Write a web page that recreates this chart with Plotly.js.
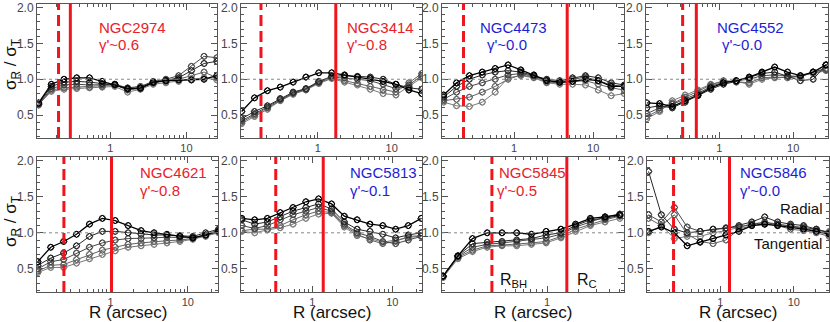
<!DOCTYPE html>
<html><head><meta charset="utf-8">
<script src="https://cdn.plot.ly/plotly-3.0.1.min.js"></script>
<style>html,body{margin:0;padding:0;background:#fff}</style>
</head><body><div id="chart" style="width:830px;height:322px"></div>
<script>
// ---- data ----
const galaxies = ["NGC2974","NGC3414","NGC4473","NGC4552","NGC4621","NGC5813","NGC5845","NGC5846"];
const gammaLabels = ["γ'~0.6","γ'~0.8","γ'~0.0","γ'~0.0","γ'~0.8","γ'~0.1","γ'~0.5","γ'~0.0"];
const coreType = ["core-less","core-less","core","core","core-less","core","core-less","core"];
const rBH = [0.21, 0.17, 0.23, 0.32, 0.25, 0.35, 0.295, 0.23];
const rC  = [0.30, 1.75, 4.7, 0.49, 1.03, 1.37, 1.55, 1.33];

const r2974 = [0.115,0.169,0.248,0.364,0.535,0.785,1.15,1.69,2.49,3.66,5.37,7.89,11.6,17.0,25.0];
const r3414 = [0.093,0.139,0.208,0.31,0.463,0.69,1.03,1.54,2.3,3.44,5.13,7.66,11.4,17.1,25.5];
const r4473 = [0.129,0.188,0.273,0.397,0.578,0.841,1.22,1.78,2.59,3.78,5.5,8.0,11.6,16.9,24.7];
const r4552 = [0.105,0.156,0.232,0.346,0.515,0.767,1.14,1.70,2.54,3.78,5.62,8.38,12.5,18.6,27.7];
const r4621 = [0.115,0.169,0.248,0.364,0.535,0.785,1.15,1.69,2.49,3.66,5.37,7.89,11.6,17.0,25.0];
const r5813 = [0.132,0.191,0.275,0.398,0.575,0.832,1.2,1.74,2.51,3.63,5.25,7.59,11.0,15.8,22.9];
const r5845 = [0.1,0.139,0.192,0.266,0.369,0.511,0.708,0.98,1.36,1.88,2.61,3.61,5.01];
const r5846 = [0.105,0.157,0.236,0.353,0.53,0.794,1.19,1.79,2.68,4.02,6.03,9.04,13.6,20.3,30.5];

// each galaxy: five sigma_R/sigma_T profiles (darkest first)
const s2974 = [
 [0.67,0.93,1.0,1.02,1.02,0.97,0.93,0.87,0.88,0.96,0.98,0.99,0.99,1.0,1.05],
 [0.66,0.90,0.96,0.97,0.96,0.94,0.92,0.86,0.87,0.95,0.98,1.02,1.12,1.22,1.25],
 [0.65,0.87,0.92,0.93,0.92,0.92,0.93,0.88,0.90,0.97,1.0,1.05,1.18,1.32,1.30],
 [0.64,0.85,0.88,0.89,0.89,0.90,0.92,0.85,0.88,0.95,0.97,1.0,1.05,1.10,1.02],
 [0.65,0.83,0.86,0.87,0.88,0.89,0.90,0.82,0.86,0.93,0.95,0.97,1.0,1.02,0.99]];
const s3414 = [
 [0.55,0.74,0.84,0.89,0.96,1.03,1.09,1.09,1.06,1.03,1.01,0.97,0.93,0.85,0.80],
 [0.45,0.55,0.63,0.73,0.82,0.87,0.97,1.04,1.05,1.04,1.03,1.0,0.93,0.88,0.86],
 [0.42,0.52,0.61,0.72,0.81,0.86,0.96,1.03,1.02,1.0,0.98,0.93,0.87,0.92,1.05],
 [0.40,0.50,0.60,0.71,0.80,0.86,0.95,1.02,0.98,0.94,0.90,0.85,0.82,0.95,1.08],
 [0.38,0.48,0.58,0.70,0.79,0.85,0.94,1.01,0.96,0.92,0.86,0.80,0.78,0.90,1.02]];
const s4473 = [
 [0.78,0.95,1.05,1.10,1.15,1.20,1.13,1.06,0.98,0.96,0.97,1.0,0.98,0.90,0.90],
 [0.75,0.90,1.0,1.06,1.10,1.12,1.10,1.05,1.0,0.98,1.02,1.05,1.02,0.95,0.92],
 [0.72,0.82,0.90,0.95,1.0,1.06,1.08,1.04,0.98,0.96,1.0,1.03,0.98,0.92,0.90],
 [0.70,0.72,0.75,0.82,0.90,1.0,1.06,1.03,0.96,0.95,0.97,0.98,0.93,0.88,0.85],
 [0.68,0.63,0.62,0.68,0.82,1.02,1.05,1.02,0.95,0.93,0.93,0.92,0.85,0.77,0.80]];
const s4552 = [
 [0.67,0.66,0.62,0.70,0.78,0.88,0.95,0.98,1.03,1.10,1.17,1.10,1.05,1.10,1.20],
 [0.60,0.63,0.60,0.68,0.77,0.86,0.93,0.97,1.02,1.08,1.10,1.04,0.98,1.0,1.20],
 [0.52,0.60,0.65,0.72,0.80,0.90,0.96,0.98,1.0,1.05,1.06,1.05,1.03,1.10,1.15],
 [0.48,0.57,0.67,0.75,0.83,0.92,0.98,0.96,0.95,1.02,1.03,1.02,1.04,1.10,1.13],
 [0.45,0.55,0.70,0.78,0.85,0.93,0.97,0.97,0.93,1.0,1.02,1.03,1.05,1.08,1.12]];
const s4621 = [
 [0.60,0.80,0.88,0.98,1.12,1.20,1.17,1.10,1.03,1.0,0.98,0.95,0.93,0.97,1.02],
 [0.55,0.65,0.72,0.82,0.95,1.02,1.02,1.0,0.98,0.97,0.97,0.96,0.95,1.0,1.05],
 [0.50,0.60,0.63,0.72,0.80,0.86,0.90,0.92,0.92,0.93,0.94,0.93,0.93,0.97,1.04],
 [0.47,0.55,0.56,0.63,0.70,0.76,0.80,0.84,0.86,0.88,0.89,0.90,0.92,0.96,1.02],
 [0.45,0.52,0.52,0.58,0.64,0.70,0.75,0.80,0.82,0.84,0.86,0.88,0.91,0.95,1.0]];
const s5813 = [
 [1.20,1.18,1.20,1.28,1.35,1.43,1.47,1.40,1.23,1.18,1.12,1.10,1.05,1.10,1.20],
 [1.18,1.12,1.15,1.22,1.30,1.35,1.40,1.33,1.15,1.05,1.02,0.98,0.93,0.97,1.0],
 [1.10,1.06,1.10,1.18,1.25,1.30,1.35,1.30,1.12,1.0,0.95,0.88,0.85,0.90,0.95],
 [1.03,1.05,1.05,1.10,1.18,1.25,1.30,1.28,1.10,0.98,0.90,0.85,0.88,0.95,0.96],
 [1.02,1.0,1.04,1.07,1.12,1.20,1.26,1.27,1.08,0.96,0.92,0.87,0.90,0.93,0.96]];
const s5845 = [
 [0.40,0.68,0.92,1.0,1.0,1.0,0.98,1.02,1.05,1.12,1.20,1.22,1.25],
 [0.40,0.68,0.85,0.87,0.88,0.90,0.92,0.97,1.0,1.10,1.18,1.20,1.24],
 [0.40,0.67,0.80,0.84,0.86,0.88,0.90,0.93,0.98,1.08,1.15,1.22,1.26],
 [0.39,0.66,0.76,0.82,0.83,0.84,0.86,0.88,0.95,1.05,1.12,1.18,1.23],
 [0.38,0.64,0.74,0.80,0.82,0.82,0.84,0.86,0.93,1.02,1.10,1.15,1.20]];
const s5846 = [
 [1.02,1.08,1.0,0.82,0.87,0.92,0.97,1.02,1.10,1.12,1.10,1.08,1.05,1.02,0.98],
 [1.85,1.25,1.05,1.0,1.02,1.05,1.06,1.10,1.15,1.22,1.15,1.12,1.10,1.05,1.0],
 [1.25,1.15,1.35,1.08,1.02,1.05,1.07,1.08,1.12,1.14,1.12,1.10,1.08,1.05,1.0],
 [1.20,1.10,1.25,0.98,0.88,0.85,0.90,1.05,1.10,1.12,1.10,1.05,1.03,1.0,0.95],
 [1.0,1.10,0.92,0.95,0.95,1.0,1.03,1.08,1.12,1.15,1.12,1.10,1.06,1.03,1.02]];

const xTickVals = [1, 10];
const xTickText = ["1", "10"];
const xMinorVals = [0.2,0.3,0.4,0.5,0.6,0.7,0.8,0.9,2,3,4,5,6,7,8,9,20,30];

// ---- layout / styling ----
const radii = [r2974,r3414,r4473,r4552,r4621,r5813,r5845,r5846];
const sigmas = [s2974,s3414,s4473,s4552,s4621,s5813,s5845,s5846];
const W = 830, H = 322;
const boxX = [[37,217],[241,422],[442,624],[646,828],[37,218],[241,422],[442,624],[647,829]];
const boxY = [[4,138],[4,138],[4,138],[4,138],[157,292],[157,292],[157,292],[157,292]];
const xRanges = [[-0.96,1.40],[-1.04,1.41],[-0.91,1.39],[-0.99,1.47],[-0.95,1.39],[-0.89,1.37],[-1.01,0.74],[-1.0,1.48]];
const lineColors = ["#000000","#262626","#474747","#626262","#7a7a7a"];
const RED = "#f2141c", BLUE = "#1e1ed2", LABRED = "#e8202a";
const FONT = "Liberation Sans, Arial, sans-serif";
const labelPos = [[97,28],[345,28],[478,28],[715,28],[138,172],[348,172],[497,172],[738,172]];
const gammaPos = [[97,45],[345,45],[485,45],[720,45],[138,190],[348,190],[495,190],[738,190]];

const traces = [];
const shapes = [];
const annotations = [];
const layout = {
  width: W, height: H, margin: {l:0, r:0, t:0, b:0},
  paper_bgcolor: "#fff", plot_bgcolor: "#fff", showlegend: false,
  font: {family: FONT, size: 11, color: "#444"}
};

for (let p = 0; p < 8; p++) {
  const n = p === 0 ? "" : String(p + 1);
  const xa = "x" + n, ya = "y" + n;
  const prof = sigmas[p];
  for (let i = prof.length - 1; i >= 0; i--) {
    traces.push({
      type: "scatter", mode: "lines+markers", x: radii[p], y: prof[i],
      xaxis: xa, yaxis: ya, hoverinfo: "skip",
      line: {color: lineColors[i], width: i === 0 ? 1.3 : 1},
      marker: {symbol: "circle-open", size: 6, color: lineColors[i], line: {width: 1, color: lineColors[i]}}
    });
    traces.push({
      type: "scatter", mode: "markers", x: radii[p], y: prof[i],
      xaxis: xa, yaxis: ya, hoverinfo: "skip",
      marker: {symbol: "diamond-open", size: 5, color: lineColors[i], line: {width: 1, color: lineColors[i]}}
    });
  }
  const bottomRow = p >= 4;
  layout["xaxis" + n] = {
    type: "log", range: xRanges[p],
    domain: [boxX[p][0] / W, boxX[p][1] / W],
    anchor: ya, showgrid: false, zeroline: false,
    showline: true, linecolor: "#555", linewidth: 1, mirror: "allticks",
    ticks: "inside", ticklen: 6, tickcolor: "#555", tickwidth: 1,
    tickmode: "array", tickvals: xTickVals, ticktext: xTickText,
    tickfont: {size: 11, color: "#444"},
    minor: {tickmode: "array", tickvals: xMinorVals, ticks: "inside", ticklen: 3, tickcolor: "#555", showgrid: false}
  };
  layout["yaxis" + n] = {
    range: [0.18, 2.05],
    domain: [1 - boxY[p][1] / H, 1 - boxY[p][0] / H],
    anchor: xa, showgrid: false, zeroline: false,
    showline: true, linecolor: "#555", linewidth: 1, mirror: "allticks",
    ticks: "inside", ticklen: 6, tickcolor: "#555",
    tick0: 0.5, dtick: 0.5, tickformat: ".1f",
    tickfont: {size: 12, color: "#444"},
    minor: {dtick: 0.1, ticks: "inside", ticklen: 3, tickcolor: "#555", showgrid: false}
  };
  shapes.push({type: "line", xref: xa + " domain", yref: ya, x0: 0, x1: 1, y0: 1, y1: 1,
               line: {color: "#888", width: 1, dash: "dot"}});
  shapes.push({type: "line", xref: xa, yref: ya + " domain", x0: rBH[p], x1: rBH[p], y0: 0, y1: 1,
               line: {color: RED, width: 3, dash: "11px,5px"}});
  shapes.push({type: "line", xref: xa, yref: ya + " domain", x0: rC[p], x1: rC[p], y0: 0, y1: 1,
               line: {color: RED, width: 3}});
  const col = coreType[p] === "core" ? BLUE : LABRED;
  annotations.push({xref: "paper", yref: "paper", x: labelPos[p][0] / W, y: 1 - labelPos[p][1] / H,
    xanchor: "left", yanchor: "middle", showarrow: false, text: galaxies[p],
    font: {size: 15, color: col, family: FONT}});
  annotations.push({xref: "paper", yref: "paper", x: gammaPos[p][0] / W, y: 1 - gammaPos[p][1] / H,
    xanchor: "left", yanchor: "middle", showarrow: false, text: gammaLabels[p],
    font: {size: 15, color: col, family: FONT}});
  if (bottomRow) {
    annotations.push({xref: "paper", yref: "paper", x: (boxX[p][0] + boxX[p][1]) / 2 / W, y: 1 - 312 / H,
      xanchor: "center", yanchor: "middle", showarrow: false, text: "R (arcsec)",
      font: {size: 17, color: "#111", family: FONT}});
  }
}
[65, 222].forEach(yc => annotations.push({xref: "paper", yref: "paper", x: 12 / W, y: 1 - yc / H,
  xanchor: "center", yanchor: "middle", showarrow: false, textangle: -90,
  text: "σ<sub>R</sub> / σ<sub>T</sub>", font: {size: 17, color: "#111", family: FONT}}));
const extra = [["Radial", 801, 208], ["Tangential", 788, 243]];
extra.forEach(e => annotations.push({xref: "paper", yref: "paper", x: e[1] / W, y: 1 - e[2] / H,
  xanchor: "center", yanchor: "middle", showarrow: false, text: e[0],
  font: {size: 15, color: "#111", family: FONT}}));
annotations.push({xref: "paper", yref: "paper", x: 498 / W, y: 1 - 280 / H, xanchor: "left", yanchor: "middle",
  showarrow: false, text: "R<sub>BH</sub>", font: {size: 16, color: "#111", family: FONT}});
annotations.push({xref: "paper", yref: "paper", x: 575 / W, y: 1 - 280 / H, xanchor: "left", yanchor: "middle",
  showarrow: false, text: "R<sub>C</sub>", font: {size: 16, color: "#111", family: FONT}});

layout.shapes = shapes;
layout.annotations = annotations;
Plotly.newPlot("chart", traces, layout, {staticPlot: true, displayModeBar: false});
</script></body></html>
